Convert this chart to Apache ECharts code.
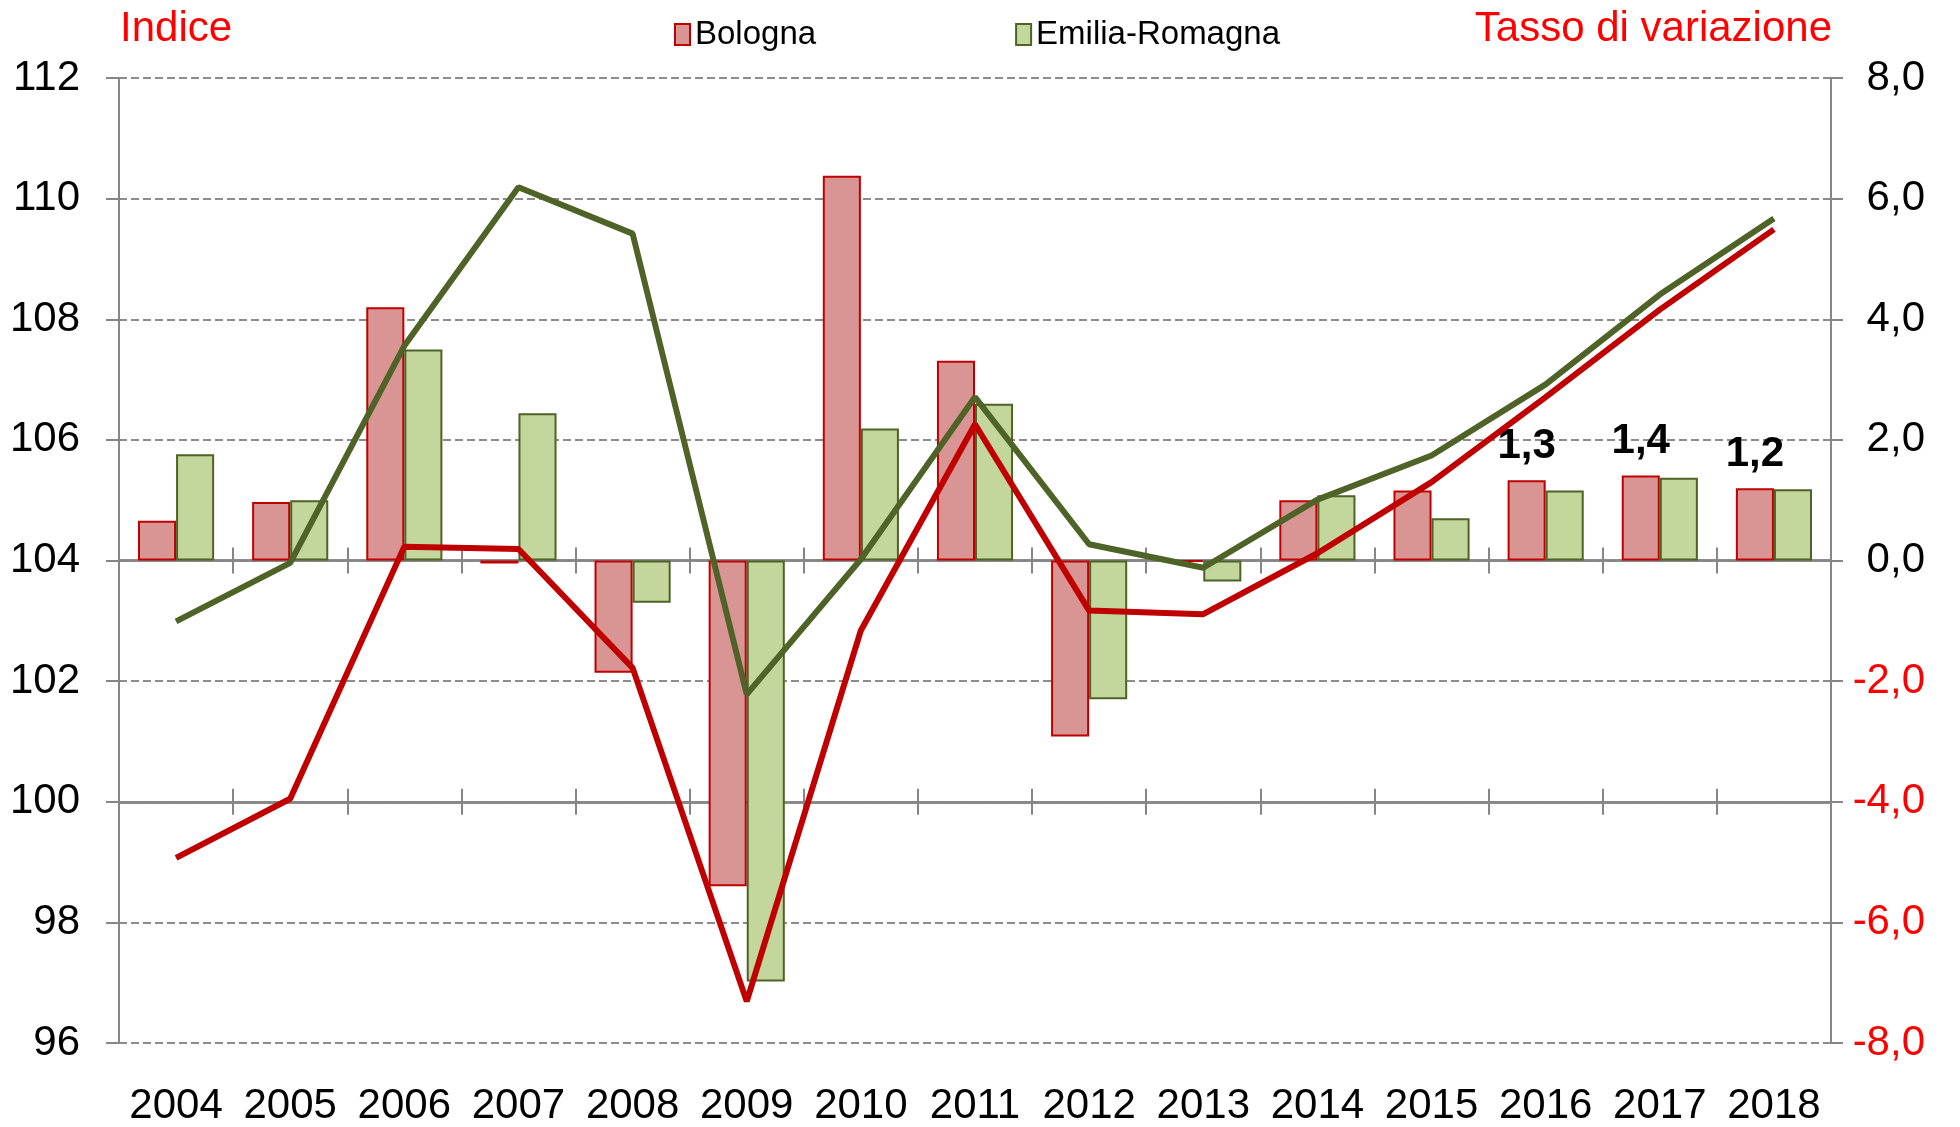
<!DOCTYPE html>
<html>
<head>
<meta charset="utf-8">
<script src="https://cdn.jsdelivr.net/npm/echarts@6/dist/echarts.min.js"></script>
<style>
  html, body { margin: 0; padding: 0; background: #fff; }
  #chart { width: 1960px; height: 1127px; }
</style>
</head>
<body>
<div id="chart"></div>
<script>
// categorie e valori
const years = ['2004', '2005', '2006', '2007', '2008', '2009', '2010', '2011', '2012', '2013', '2014', '2015', '2016', '2017', '2018'];
// tasso di variazione (asse destro, barre)
const bolognaRate = [0.66, 0.97, 4.2, -0.05, -1.86, -5.4, 6.38, 3.31, -2.92, -0.02, 1.0, 1.16, 1.33, 1.41, 1.2];
const emiliaRate = [1.76, 1.0, 3.5, 2.44, -0.7, -6.98, 2.19, 2.6, -2.3, -0.35, 1.08, 0.7, 1.16, 1.37, 1.18];
// indice (asse sinistro, linee)
const bolognaIndex = [99.07, 100.05, 104.23, 104.19, 102.22, 96.69, 102.84, 106.26, 103.17, 103.11, 104.12, 105.3, 106.71, 108.16, 109.49];
const emiliaIndex = [102.99, 103.96, 107.56, 110.19, 109.42, 101.78, 104.02, 106.71, 104.27, 103.88, 105.01, 105.74, 106.92, 108.41, 109.67];
// anni con etichetta sul valore di Bologna
const labelledYears = ['2016', '2017', '2018'];

const gray = '#868686';
const red = '#C00000';
const olive = '#4F6228';
const fmt = v => Number(v).toFixed(1).replace('.', ',');

const chart = echarts.init(document.getElementById('chart'));

// asse orizzontale con tacche "a croce" agganciato allo zero di un asse y
function crossAxis(yIdx, inside) {
  return {
    type: 'category',
    data: years,
    position: 'bottom',
    axisLine: { show: true, onZero: true, onZeroAxisIndex: yIdx, lineStyle: { color: gray, width: 2.5 } },
    axisTick: { show: true, inside: inside, length: 13, lineStyle: { color: gray, width: 2 } },
    axisLabel: { show: false },
    splitLine: { show: false }
  };
}

chart.setOption({
  animation: false,
  textStyle: { fontFamily: 'Liberation Sans, Arial, sans-serif' },
  title: [
    {
      text: 'Indice',
      left: 115,
      top: 3,
      textStyle: { color: '#FF0000', fontSize: 42, fontWeight: 'normal' }
    },
    {
      text: 'Tasso di variazione',
      right: 123,
      top: 3,
      textStyle: { color: '#FF0000', fontSize: 42, fontWeight: 'normal' }
    }
  ],
  legend: {
    data: ['Bologna', 'Emilia-Romagna'],
    left: 669,
    top: 13,
    icon: 'rect',
    itemWidth: 15,
    itemHeight: 21,
    itemGap: 199,
    textStyle: { fontSize: 33, color: '#000' }
  },
  grid: { left: 119, right: 129, top: 78, bottom: 83 },
  xAxis: [
    {
      type: 'category',
      data: years,
      position: 'bottom',
      axisLine: { show: false, onZero: false },
      axisTick: { show: false },
      axisLabel: { interval: 0, fontSize: 42, color: '#000', margin: 42 }
    },
    crossAxis(1, false),
    crossAxis(1, true),
    crossAxis(2, false),
    crossAxis(2, true)
  ],
  yAxis: [
    {
      type: 'value',
      position: 'left',
      min: 96,
      max: 112,
      interval: 2,
      axisLine: { show: true, lineStyle: { color: gray, width: 2 } },
      axisTick: { show: true, length: 13, lineStyle: { color: gray, width: 2 } },
      axisLabel: { fontSize: 42, color: '#000', margin: 39 },
      splitLine: { show: true, lineStyle: { color: '#8c8c8c', width: 2, type: [8, 4] } }
    },
    {
      type: 'value',
      position: 'right',
      min: -8,
      max: 8,
      interval: 2,
      axisLine: { show: true, lineStyle: { color: gray, width: 2 } },
      axisTick: { show: true, length: 12, lineStyle: { color: gray, width: 2 } },
      axisLabel: {
        fontSize: 42,
        align: 'right',
        margin: 94,
        formatter: fmt,
        color: v => (Number(v) < 0 ? '#FF0000' : '#000')
      },
      splitLine: { show: false }
    },
    {
      // asse di servizio: il suo zero cade su 100 dell'asse sinistro
      type: 'value',
      show: false,
      min: -4,
      max: 12
    }
  ],
  series: [
    {
      name: 'Bologna',
      type: 'bar',
      xAxisIndex: 0,
      yAxisIndex: 1,
      barGap: '0%',
      barCategoryGap: '33.3%',
      itemStyle: { color: '#D99594', borderColor: red, borderWidth: 2 },
      label: {
        position: 'top',
        distance: 13,
        fontSize: 42,
        fontWeight: 'bold',
        color: '#000',
        formatter: p => fmt(p.value)
      },
      data: bolognaRate.map((v, i) => ({ value: v, label: { show: labelledYears.includes(years[i]) } }))
    },
    {
      name: 'Emilia-Romagna',
      type: 'bar',
      xAxisIndex: 0,
      yAxisIndex: 1,
      itemStyle: { color: '#C3D69B', borderColor: olive, borderWidth: 2 },
      data: emiliaRate
    },
    {
      name: 'Indice Bologna',
      type: 'line',
      xAxisIndex: 0,
      yAxisIndex: 0,
      symbol: 'none',
      z: 5,
      lineStyle: { color: red, width: 6 },
      data: bolognaIndex
    },
    {
      name: 'Indice Emilia-Romagna',
      type: 'line',
      xAxisIndex: 0,
      yAxisIndex: 0,
      symbol: 'none',
      z: 5,
      lineStyle: { color: olive, width: 6 },
      data: emiliaIndex
    }
  ]
});
</script>
</body>
</html>
